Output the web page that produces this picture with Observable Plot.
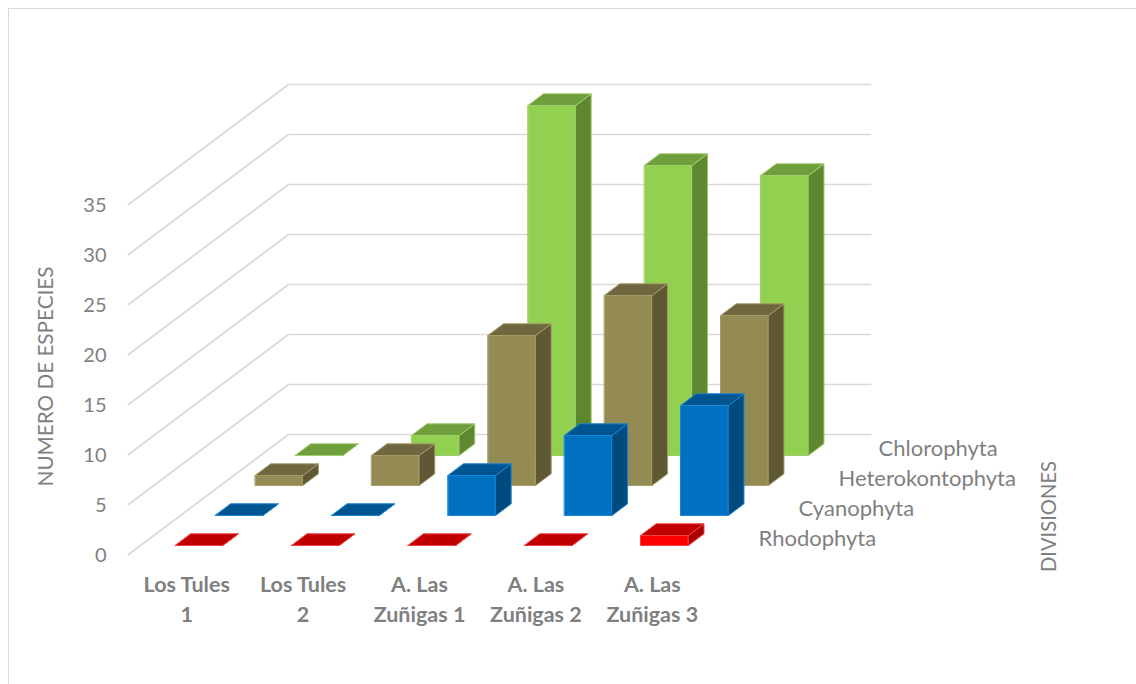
<!DOCTYPE html>
<html>
<head>
<meta charset="utf-8">
<script src="https://cdn.jsdelivr.net/npm/d3@7"></script>
<script src="https://cdn.jsdelivr.net/npm/@observablehq/plot@0.6"></script>
<style>
  html, body { margin: 0; padding: 0; background: #fff; }
  #sheet { position: absolute; left: 8px; top: 8px; right: 0; bottom: 0;
           border-left: 1px solid #d9d9d9; border-top: 1px solid #d9d9d9; }
  #chart svg { position: absolute; left: 0; top: 0; background: transparent; }
</style>
</head>
<body>
<div id="sheet"></div>
<div id="chart"></div>
<script>
// Sampling sites and algal divisions, front row first
const sites = ["Los Tules\n1", "Los Tules\n2", "A. Las\nZuñigas 1", "A. Las\nZuñigas 2", "A. Las\nZuñigas 3"];
const divisions = ["Rhodophyta", "Cyanophyta", "Heterokontophyta", "Chlorophyta"];

// Species count per site
const rhodophyta = [0, 0, 0, 0, 1];
const cyanophyta = [0, 0, 4, 8, 11];
const heterokontophyta = [1, 3, 15, 19, 17];
const chlorophyta = [0, 2, 35, 29, 28];

const counts = [rhodophyta, cyanophyta, heterokontophyta, chlorophyta];
const valueTicks = [0, 5, 10, 15, 20, 25, 30, 35];

// Face shades per division: front, top, side, edge
const shades = [
  {front: "#ff0000", top: "#c00000", side: "#a80000", edge: "#f04040"},
  {front: "#0070c0", top: "#005490", side: "#004a7e", edge: "#1a86d6"},
  {front: "#948a54", top: "#6f673f", side: "#5f5835", edge: "#a69c66"},
  {front: "#92d050", top: "#6f9f3c", side: "#5f8730", edge: "#a2cc6e"}
];

// Oblique projection: one depth slot shifts by depthX sites to the right
// and by depthY count units upward
const depthX = 40 / 116.4;
const depthY = 3;
const px = (c, d) => c + d * depthX;
const py = (v, d) => v + d * depthY;
const pt = (c, v, d, bar) => ({x: px(c, d), y: py(v, d), bar});

const gap = 0.299;       // space on the left of a bar within its site
const barWidth = 0.408;  // bar width as a share of its site
const depthGap = 0.3;    // space before a bar within its depth slot
const depthBar = 0.39;   // bar thickness along the depth axis

// Three visible faces of one bar
function faces(site, value, row) {
  const x0 = site + gap, x1 = x0 + barWidth;
  const d0 = row + depthGap, d1 = d0 + depthBar;
  const id = `${row}-${site}`;
  return {
    front: [pt(x0, 0, d0, id), pt(x1, 0, d0, id), pt(x1, value, d0, id), pt(x0, value, d0, id)],
    side: [pt(x1, 0, d0, id), pt(x1, 0, d1, id), pt(x1, value, d1, id), pt(x1, value, d0, id)],
    top: [pt(x0, value, d0, id), pt(x1, value, d0, id), pt(x1, value, d1, id), pt(x0, value, d1, id)]
  };
}

// Rear rows are painted first so that nearer bars cover them
const barMarks = d3.range(divisions.length - 1, -1, -1).flatMap(row => {
  const bars = counts[row].map((v, site) => faces(site, v, row));
  return ["front", "side", "top"].map(face =>
    Plot.line(bars.flatMap(b => b[face]), {
      x: "x", y: "y", z: "bar",
      curve: "linear-closed",
      fill: shades[row][face],
      stroke: shades[row].edge,
      strokeWidth: 1,
      strokeLinejoin: "round"
    })
  );
});

// Wall grid: from the front of the left wall to its back, then along the rear wall
const depthSlots = divisions.length;
const gridPoints = valueTicks.flatMap(v => [
  {...pt(0, v, 0), v},
  {...pt(0, v, depthSlots), v},
  {...pt(sites.length, v, depthSlots), v}
]);

const chart = Plot.plot({
  width: 1136,
  height: 684,
  marginLeft: 128,
  marginRight: 266,
  marginTop: 84,
  marginBottom: 130,
  x: {domain: [0, px(sites.length, depthSlots)], axis: null},
  y: {domain: [0, py(35, depthSlots)], axis: null},
  style: {fontFamily: "Lato, sans-serif", color: "#7f7f7f"},
  marks: [
    Plot.line(gridPoints, {x: "x", y: "y", z: "v", stroke: "#d9d9d9", strokeWidth: 1.7}),
    ...barMarks,
    Plot.axisY({
      ticks: valueTicks,
      tickSize: 0,
      tickPadding: 22,
      fontSize: 20,
      dy: 1,
      label: null,
      fill: "#7f7f7f"
    }),
    Plot.text(sites, {
      x: (d, i) => i + 0.5,
      y: () => 0,
      dy: 16,
      text: d => d,
      lineAnchor: "top",
      lineHeight: 1.4,
      fontSize: 21.5,
      fontWeight: 700,
      fill: "#7f7f7f"
    }),
    Plot.text(divisions, {
      x: (d, i) => px(sites.length, i + 0.5),
      y: (d, i) => py(0, i + 0.5),
      dx: 28,
      dy: -1,
      text: d => d,
      textAnchor: "start",
      fontSize: 22,
      fill: "#7f7f7f"
    }),
    Plot.text(["NUMERO DE ESPECIES"], {
      frameAnchor: "left",
      textAnchor: "middle",
      dx: -82,
      dy: 57,
      rotate: -90,
      text: d => d,
      fontSize: 20.7,
      fill: "#7f7f7f"
    }),
    Plot.text(["DIVISIONES"], {
      frameAnchor: "right",
      textAnchor: "middle",
      dx: 179,
      dy: 197,
      rotate: -90,
      text: d => d,
      fontSize: 20.2,
      fill: "#7f7f7f"
    })
  ]
});
document.getElementById("chart").append(chart);
</script>
</body>
</html>
